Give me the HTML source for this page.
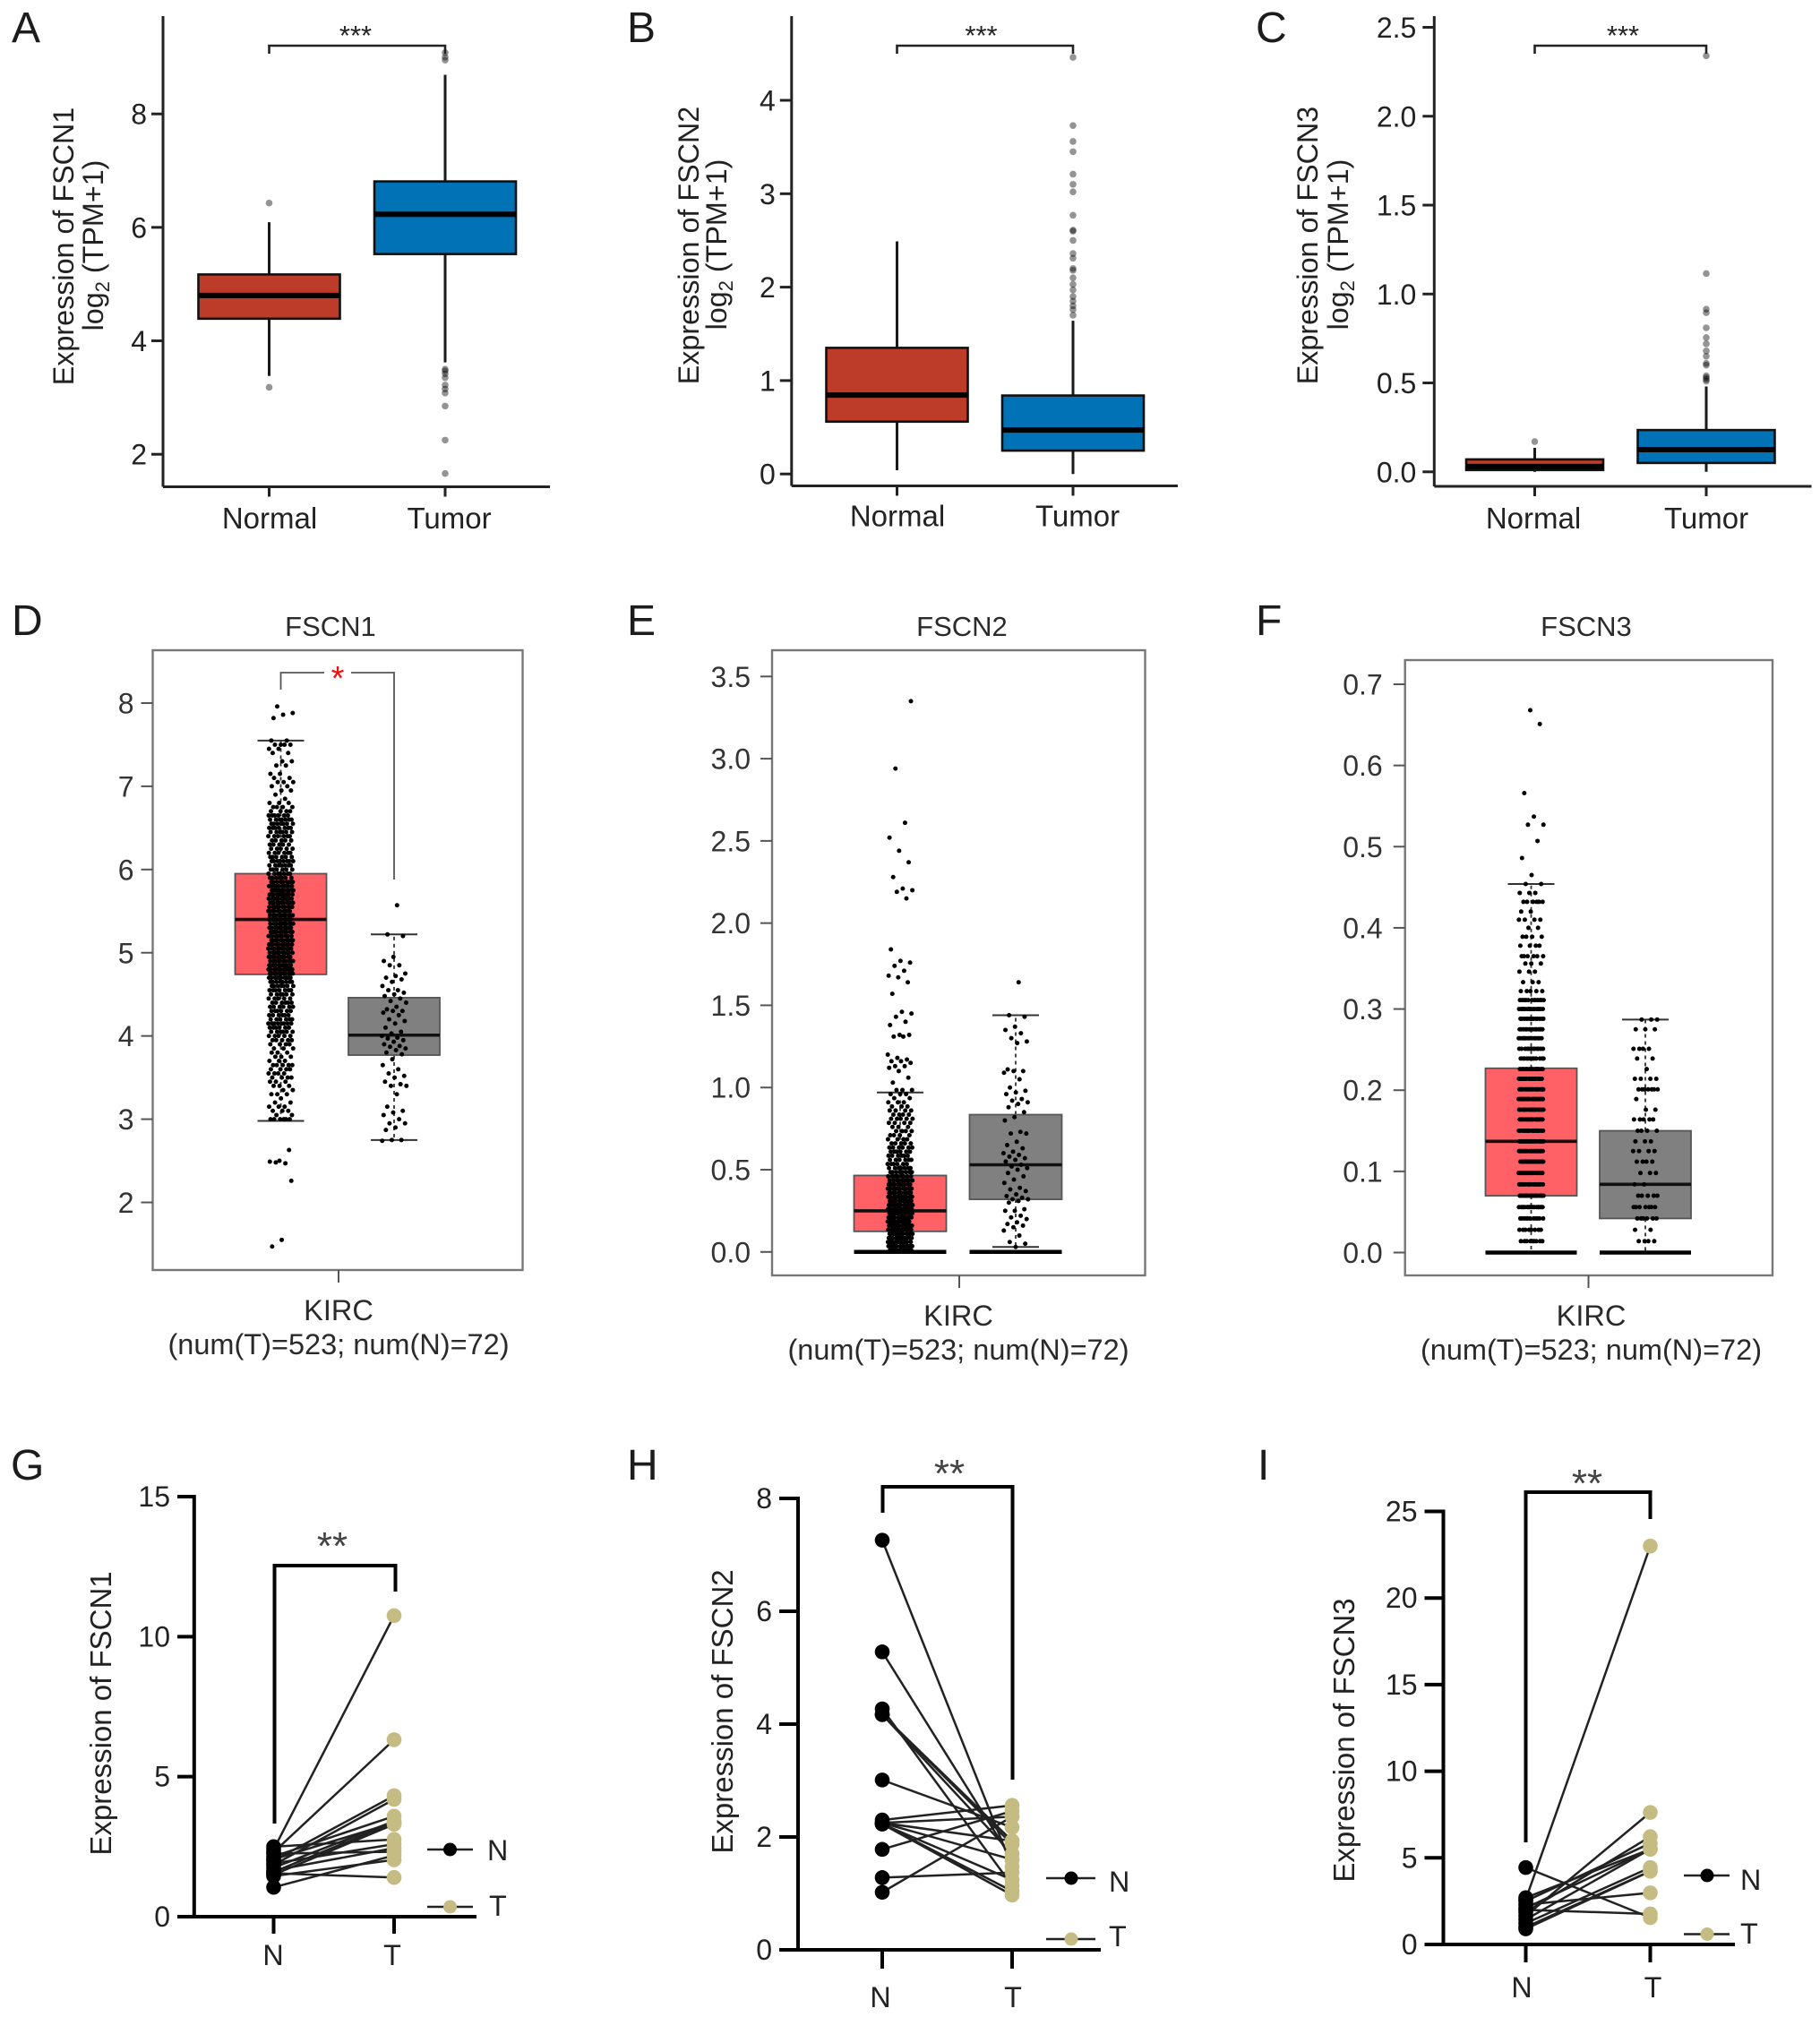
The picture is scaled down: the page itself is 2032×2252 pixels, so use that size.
<!DOCTYPE html>
<html lang="en">
<head>
<meta charset="utf-8">
<title>FSCN expression panels</title>
<style>
html,body{margin:0;padding:0;background:#fff;}
svg{display:block;font-family:"Liberation Sans",Arial,sans-serif;}
text{fill:#222;}
.letter{font-size:48px;fill:#1c1c1c;}
.axt{font-size:32.3px;}
.axp{font-size:33px;}
.cat{font-size:33px;}
.gt{font-size:31px;fill:#2a2a2a;}
.gx{font-size:32.5px;fill:#2a2a2a;}
</style>
</head>
<body>
<svg id="figure" xmlns="http://www.w3.org/2000/svg" width="2032" height="2252" viewBox="0 0 2032 2252">
<rect x="0" y="0" width="2032" height="2252" fill="#fff"/>

<g id="pA"></g>
<g id="pB"></g>
<g id="pC"></g>
<g id="pD"></g>
<g id="pE"></g>
<g id="pF"></g>
<g id="pG"></g>
<g id="pH"></g>
<g id="pI"></g>

<text class="letter" x="13" y="47">A</text>
<text class="letter" x="700" y="47">B</text>
<text class="letter" x="1402" y="47">C</text>
<text class="letter" x="13" y="709">D</text>
<text class="letter" x="700" y="709">E</text>
<text class="letter" x="1402" y="709">F</text>
<text class="letter" x="12" y="1652">G</text>
<text class="letter" x="700" y="1652">H</text>
<text class="letter" x="1404" y="1652">I</text>

<!-- Row 1 text -->
<text class="axt" transform="translate(82,275) rotate(-90)" text-anchor="middle">Expression of FSCN1</text>
<text class="axt" transform="translate(115,274) rotate(-90)" text-anchor="middle">log<tspan font-size="22" dy="7">2</tspan><tspan dy="-7"> (TPM+1)</tspan></text>
<text class="cat" x="301" y="590" text-anchor="middle">Normal</text>
<text class="cat" x="501.5" y="590" text-anchor="middle">Tumor</text>
<text x="397" y="50" text-anchor="middle" font-size="31">***</text>

<text class="axt" transform="translate(780,274) rotate(-90)" text-anchor="middle">Expression of FSCN2</text>
<text class="axt" transform="translate(811,273) rotate(-90)" text-anchor="middle">log<tspan font-size="22" dy="7">2</tspan><tspan dy="-7"> (TPM+1)</tspan></text>
<text class="cat" x="1002" y="587.5" text-anchor="middle">Normal</text>
<text class="cat" x="1203" y="587.5" text-anchor="middle">Tumor</text>
<text x="1095.5" y="50" text-anchor="middle" font-size="31">***</text>

<text class="axt" transform="translate(1471,274) rotate(-90)" text-anchor="middle">Expression of FSCN3</text>
<text class="axt" transform="translate(1505,273) rotate(-90)" text-anchor="middle">log<tspan font-size="22" dy="7">2</tspan><tspan dy="-7"> (TPM+1)</tspan></text>
<text class="cat" x="1712" y="590" text-anchor="middle">Normal</text>
<text class="cat" x="1905" y="590" text-anchor="middle">Tumor</text>
<text x="1812" y="50" text-anchor="middle" font-size="31">***</text>

<!-- Row 2 text -->
<text class="gt" x="369" y="710" text-anchor="middle">FSCN1</text>
<text class="gx" x="378" y="1474" text-anchor="middle">KIRC</text>
<text class="gx" x="378" y="1512" text-anchor="middle">(num(T)=523; num(N)=72)</text>
<text x="377" y="770" text-anchor="middle" font-size="38" style="fill:#f01010">*</text>

<text class="gt" x="1074" y="710" text-anchor="middle">FSCN2</text>
<text class="gx" x="1070" y="1480" text-anchor="middle">KIRC</text>
<text class="gx" x="1070" y="1518" text-anchor="middle">(num(T)=523; num(N)=72)</text>

<text class="gt" x="1771" y="710" text-anchor="middle">FSCN3</text>
<text class="gx" x="1776.5" y="1480" text-anchor="middle">KIRC</text>
<text class="gx" x="1776.5" y="1518" text-anchor="middle">(num(T)=523; num(N)=72)</text>

<!-- Row 3 text -->
<text class="axp" transform="translate(124,1913) rotate(-90)" text-anchor="middle">Expression of FSCN1</text>
<text class="axt" x="305" y="2194" text-anchor="middle">N</text>
<text class="axt" x="438" y="2194" text-anchor="middle">T</text>
<text x="371" y="1741" text-anchor="middle" font-size="44" style="fill:#444">**</text>
<text class="axt" x="544" y="2077">N</text>
<text class="axt" x="546" y="2139">T</text>

<text class="axp" transform="translate(818,1911) rotate(-90)" text-anchor="middle">Expression of FSCN2</text>
<text class="axt" x="983" y="2241" text-anchor="middle">N</text>
<text class="axt" x="1131" y="2241" text-anchor="middle">T</text>
<text x="1060" y="1660" text-anchor="middle" font-size="44" style="fill:#444">**</text>
<text class="axt" x="1238" y="2112">N</text>
<text class="axt" x="1238" y="2173">T</text>

<text class="axp" transform="translate(1512,1943) rotate(-90)" text-anchor="middle">Expression of FSCN3</text>
<text class="axt" x="1699" y="2230" text-anchor="middle">N</text>
<text class="axt" x="1845.5" y="2230" text-anchor="middle">T</text>
<text x="1772" y="1671" text-anchor="middle" font-size="44" style="fill:#444">**</text>
<text class="axt" x="1943" y="2110">N</text>
<text class="axt" x="1943" y="2170">T</text>
</svg>

<script>
/* ---------- Panel A data: box = [low whisker, q1, median, q3, high whisker] ---------- */
const aTicks=[2,4,6,8];
const aTickLabels=['2','4','6','8'];
const aNormalBox=[3.38,4.39,4.80,5.17,6.09];
const aTumorBox=[3.62,5.53,6.23,6.81,8.69];
const aNormalOutliers=[6.43,3.18];
const aTumorOutliers=[9.08,9.0,8.95,3.5,3.47,3.42,3.35,3.22,3.15,3.08,2.85,2.25,1.66];

/* ---------- Panel B data ---------- */
const bTicks=[0,1,2,3,4];
const bTickLabels=['0','1','2','3','4'];
const bNormalBox=[0.04,0.56,0.845,1.35,2.49];
const bTumorBox=[0,0.25,0.47,0.84,1.64];
const bNormalOutliers=[];
const bTumorOutliers=[4.46,3.73,3.56,3.45,3.21,3.1,3.02,2.77,2.61,2.6,2.5,2.36,2.31,2.2,2.18,2.1,2.03,1.97,1.9,1.85,1.8,1.76,1.7];

/* ---------- Panel C data ---------- */
const cTicks=[0,0.5,1,1.5,2,2.5];
const cTickLabels=['0.0','0.5','1.0','1.5','2.0','2.5'];
const cNormalBox=[0,0.01,0.03,0.07,0.135];
const cTumorBox=[0,0.05,0.125,0.235,0.48];
const cNormalOutliers=[0.17];
const cTumorOutliers=[2.34,1.115,0.915,0.895,0.81,0.755,0.72,0.68,0.65,0.61,0.6,0.54,0.53,0.52,0.51];

/* ---------- Panel D data ---------- */
const dTicks=[2,3,4,5,6,7,8];
const dTickLabels=['2','3','4','5','6','7','8'];
const dTumorBox=[2.98,4.74,5.4,5.95,7.55];
const dNormalBox=[2.75,3.77,4.01,4.46,5.22];
const dTumorLevels=[3.0,3.05,3.1,3.15,3.2,3.25,3.3,3.35,3.4,3.45,3.5,3.55,3.6,3.65,3.7,3.75,3.8,3.85,3.9,3.95,4.0,4.05,4.1,4.15,4.2,4.25,4.3,4.35,4.4,4.45,4.5,4.55,4.6,4.65,4.7,4.75,4.8,4.85,4.9,4.95,5.0,5.05,5.1,5.15,5.2,5.25,5.3,5.35,5.4,5.45,5.5,5.55,5.6,5.65,5.7,5.75,5.8,5.85,5.9,5.95,6.0,6.05,6.1,6.15,6.2,6.25,6.3,6.35,6.4,6.45,6.5,6.55,6.6,6.65,6.7,6.75,6.8,6.85,6.9,6.95,7.0,7.05,7.1,7.15,7.25,7.3,7.4,7.45,7.5,7.55];
const dTumorCounts=[6,2,3,3,2,1,3,2,3,3,4,4,4,5,3,3,3,3,4,5,5,6,6,8,6,6,6,6,6,5,6,7,7,8,10,11,11,11,10,10,10,10,10,10,10,10,10,10,11,10,10,10,10,11,11,11,11,9,7,7,6,7,8,6,6,5,5,5,6,6,7,7,7,6,4,4,3,1,1,2,2,3,2,2,2,2,2,2,4,2];
const dTumorExtra=[7.96,7.88,7.86,7.82,2.63,2.5,2.49,2.47,2.48,2.26,1.55,1.47];
const dNormalLevels=[];
const dNormalCounts=[];
const dNormalExtra=[5.57,5.22,5.2,4.95,4.9,4.85,4.85,4.75,4.72,4.7,4.68,4.65,4.6,4.55,4.55,4.52,4.5,4.48,4.45,4.42,4.4,4.35,4.32,4.3,4.3,4.28,4.25,4.2,4.18,4.15,4.1,4.05,4.03,4.0,3.98,3.97,3.95,3.93,3.9,3.88,3.87,3.85,3.83,3.8,3.78,3.72,3.65,3.6,3.55,3.52,3.5,3.45,3.42,3.4,3.4,3.3,3.15,3.1,3.08,3.05,3.0,2.95,2.95,2.9,2.87,2.75,2.75,2.74];

/* ---------- Panel E data ---------- */
const eTicks=[0,0.5,1,1.5,2,2.5,3,3.5];
const eTickLabels=['0.0','0.5','1.0','1.5','2.0','2.5','3.0','3.5'];
const eTumorBox=[0,0.125,0.25,0.465,0.97];
const eNormalBox=[0.03,0.32,0.53,0.835,1.44];
const eTumorLevels=[0.01,0.035,0.06,0.085,0.11,0.135,0.16,0.185,0.21,0.235,0.26,0.285,0.31,0.335,0.36,0.385,0.41,0.435,0.46,0.485,0.51,0.535,0.56,0.585,0.61,0.635,0.66,0.685,0.71,0.735,0.76,0.785,0.81,0.835,0.86,0.885,0.91,0.935,0.96,0.985];
const eTumorCounts=[12,12,12,12,12,12,12,12,12,12,12,12,11,11,10,10,10,9,9,8,7,6,6,6,6,6,5,4,4,4,3,4,5,4,4,3,3,2,3,3];
const eTumorExtra=[1.03,1.06,1.1,1.12,1.13,1.13,1.15,1.16,1.16,1.17,1.18,1.2,1.31,1.31,1.32,1.32,1.38,1.4,1.43,1.45,1.46,1.57,1.64,1.67,1.68,1.71,1.74,1.76,1.77,1.84,2.15,2.19,2.2,2.21,2.28,2.37,2.44,2.52,2.61,2.94,3.35];
const eNormalLevels=[];
const eNormalCounts=[];
const eNormalExtra=[1.64,1.44,1.43,1.37,1.35,1.33,1.3,1.28,1.27,1.11,1.1,1.1,1.09,1.05,1.0,0.98,0.97,0.96,0.93,0.92,0.91,0.9,0.88,0.85,0.82,0.8,0.73,0.72,0.72,0.67,0.65,0.63,0.61,0.6,0.59,0.58,0.57,0.56,0.55,0.53,0.52,0.51,0.5,0.48,0.46,0.44,0.42,0.39,0.38,0.37,0.35,0.34,0.33,0.32,0.32,0.31,0.3,0.26,0.25,0.25,0.22,0.21,0.2,0.18,0.17,0.16,0.15,0.13,0.1,0.06,0.05,0.03];

/* ---------- Panel F data ---------- */
const fTicks=[0,0.1,0.2,0.3,0.4,0.5,0.6,0.7];
const fTickLabels=['0.0','0.1','0.2','0.3','0.4','0.5','0.6','0.7'];
const fTumorBox=[0,0.07,0.137,0.227,0.454];
const fNormalBox=[0,0.042,0.084,0.15,0.287];
const fTumorLevels=[0.014,0.028,0.042,0.056,0.07,0.084,0.098,0.112,0.125,0.137,0.15,0.164,0.176,0.189,0.201,0.214,0.226,0.239,0.251,0.264,0.275,0.288,0.3,0.311,0.322,0.333,0.346,0.356,0.365,0.378,0.389,0.4,0.41,0.42,0.432,0.443,0.454];
const fTumorCounts=[9,8,11,18,18,18,20,20,20,20,18,18,18,20,18,18,14,12,12,14,14,14,16,12,5,3,3,3,6,4,4,2,4,2,6,3,2];
const fTumorExtra=[0.465,0.486,0.507,0.527,0.527,0.537,0.566,0.651,0.668];
const fNormalLevels=[0.014,0.028,0.042,0.056,0.07,0.084,0.098,0.112,0.125,0.137,0.15,0.164,0.176,0.189,0.201,0.214,0.226,0.239,0.251,0.275,0.287];
const fNormalCounts=[4,2,6,7,5,2,3,4,4,3,4,5,2,1,7,4,1,2,4,3,3];
const fNormalExtra=[];

/* ---------- Paired panels ---------- */
const gTicks=[0,5,10,15];
const gTickLabels=['0','5','10','15'];
const gNormal=[2.4,2.3,2.0,1.85,2.15,1.75,1.6,2.05,1.5,2.5,1.9,1.65,2.25,1.05,1.45,1.55];
const gTumor=[10.75,6.32,4.32,4.19,3.59,3.41,3.36,3.36,3.3,2.76,2.59,2.45,2.32,2.19,2.03,1.4];

const hTicks=[0,2,4,6,8];
const hTickLabels=['0','2','4','6','8'];
const hNormal=[7.26,5.28,4.27,4.17,4.17,4.17,3.01,2.3,2.25,2.25,2.23,2.23,1.78,1.28,1.02,2.23,2.25];
const hTumor=[1.47,1.6,1.14,1.93,1.87,1.7,2.17,2.56,1.93,2.36,1.24,1.04,2.46,1.37,2.36,0.97,1.6];

const iTicks=[0,5,10,15,20,25];
const iTickLabels=['0','5','10','15','20','25'];
const iNormal=[2.6,4.44,2.3,2.0,2.5,2.1,1.87,1.65,1.44,1.22,1.0,0.9,2.7];
const iTumor=[23.0,1.55,2.98,1.76,5.84,5.5,6.22,7.62,5.5,4.44,4.23,4.23,5.5];

/* ---------- Helpers ---------- */
const SVGNS='http://www.w3.org/2000/svg';
function linear(v1,p1,v2,p2){return function(v){return p1+(v-v1)*(p2-p1)/(v2-v1);};}
function mark(parent,tag,attrs,name,txt){
  const el=document.createElementNS(SVGNS,tag);
  for(const k in attrs){el.setAttribute(k,attrs[k]);}
  
  
  if(txt!==undefined){el.textContent=txt;}
  parent.appendChild(el);
  return el;
}
function seg(parent,x1,y1,x2,y2,color,w,name,dash){
  const a={x1:x1,y1:y1,x2:x2,y2:y2,stroke:color,'stroke-width':w};
  if(dash){a['stroke-dasharray']=dash;}
  return mark(parent,'line',a,name);
}
function jitter(i){return (((i+1)*0.6180339887)%1)*2-1;}

/* ---------- Panels A-C ---------- */
const NORMAL_RED='#BC3C29', TUMOR_BLUE='#0072B5';
function drawClassicBox(g,sc,cx,half,data,fill,outliers,tag){
  seg(g,cx,sc(data[0]),cx,sc(data[4]),'#1a1a1a',3,'whisker-'+tag);
  mark(g,'rect',{x:cx-half,y:sc(data[3]),width:half*2,height:sc(data[1])-sc(data[3]),fill:fill,stroke:'#111','stroke-width':2.6},'box-'+tag);
  seg(g,cx-half,sc(data[2]),cx+half,sc(data[2]),'#000',6,'median-'+tag);
  outliers.forEach(function(v){
    mark(g,'circle',{cx:cx,cy:sc(v),r:3.8,fill:'#000','fill-opacity':0.42},'outlier-'+tag);
  });
}
function drawClassicPanel(id,L,ticks,labels,nBox,tBox,nOut,tOut){
  const g=document.getElementById(id), sc=L.sc;
  seg(g,L.ax,L.top,L.ax,L.bottom,'#222',3,'y-axis-line');
  seg(g,L.ax,L.bottom,L.right,L.bottom,'#222',3,'x-axis-line');
  ticks.forEach(function(v,i){
    seg(g,L.ax-13,sc(v),L.ax,sc(v),'#222',3,'y-tick');
    mark(g,'text',{x:L.ax-L.gap,y:sc(v)+11.5,'text-anchor':'end','font-size':32},'y-tick-label',labels[i]);
  });
  L.cx.forEach(function(x){seg(g,x,L.bottom,x,L.bottom+11,'#222',3,'x-tick');});
  drawClassicBox(g,sc,L.cx[0],L.half,nBox,NORMAL_RED,nOut,'normal');
  drawClassicBox(g,sc,L.cx[1],L.half,tBox,TUMOR_BLUE,tOut,'tumor');
  mark(g,'path',{d:'M'+L.cx[0]+' 60V51H'+L.cx[1]+'V60',fill:'none',stroke:'#222','stroke-width':2.6},'significance-bracket');
}
drawClassicPanel('pA',{ax:182,top:18,bottom:543.5,right:614,gap:18,cx:[300.5,497],half:79,sc:linear(2,507.2,8,127.2)},aTicks,aTickLabels,aNormalBox,aTumorBox,aNormalOutliers,aTumorOutliers);
drawClassicPanel('pB',{ax:883.8,top:18,bottom:542.5,right:1315,gap:18,cx:[1001.5,1198],half:79,sc:linear(0,529.2,4,112)},bTicks,bTickLabels,bNormalBox,bTumorBox,bNormalOutliers,bTumorOutliers);
drawClassicPanel('pC',{ax:1601.3,top:18,bottom:543,right:2022.5,gap:20,cx:[1713.5,1905],half:76.5,sc:linear(0,526.8,2.5,30.5)},cTicks,cTickLabels,cNormalBox,cTumorBox,cNormalOutliers,cTumorOutliers);

/* ---------- Panels D-F ---------- */
function expand(levels,counts,extra){
  const out=[];
  levels.forEach(function(v,i){for(let k=0;k<counts[i];k++){out.push(v);}});
  return out.concat(extra);
}
function drawGepiaBox(g,sc,cx,half,data,fill,points,zeroBar,tag){
  seg(g,cx,sc(data[3]),cx,sc(data[4]),'#333',1.8,'upper-whisker-'+tag,'4 4');
  seg(g,cx,sc(data[1]),cx,sc(data[0]),'#333',1.8,'lower-whisker-'+tag,'4 4');
  seg(g,cx-26,sc(data[4]),cx+26,sc(data[4]),'#333',2,'upper-cap-'+tag);
  seg(g,cx-26,sc(data[0]),cx+26,sc(data[0]),'#333',2,'lower-cap-'+tag);
  mark(g,'rect',{x:cx-half,y:sc(data[3]),width:half*2,height:sc(data[1])-sc(data[3]),fill:fill,stroke:'#555','stroke-width':1.8},'box-'+tag);
  seg(g,cx-half,sc(data[2]),cx+half,sc(data[2]),'#111',3.6,'median-'+tag);
  if(zeroBar){seg(g,cx-half,sc(0),cx+half,sc(0),'#000',4.5,'zero-bar-'+tag);}
  points.forEach(function(v,i){
    mark(g,'circle',{cx:cx+14*jitter(i),cy:sc(v),r:2.5,fill:'#000'},'sample-point-'+tag);
  });
}
function drawGepiaPanel(id,L,ticks,labels,tBox,nBox,tPts,nPts){
  const g=document.getElementById(id), sc=L.sc;
  mark(g,'rect',{x:L.l,y:L.t,width:L.r-L.l,height:L.b-L.t,fill:'#fff',stroke:'#777','stroke-width':2.4},'plot-frame');
  ticks.forEach(function(v,i){
    seg(g,L.l-13,sc(v),L.l,sc(v),'#555',2,'y-tick');
    mark(g,'text',{x:L.l-L.gap,y:sc(v)+11.5,'text-anchor':'end','font-size':32,style:'fill:#333'},'y-tick-label',labels[i]);
  });
  seg(g,L.xt,L.b,L.xt,L.b+14,'#555',2,'x-tick');
  drawGepiaBox(g,sc,L.cx[0],L.half,tBox,'#FF6166',tPts,L.zero,'tumor');
  drawGepiaBox(g,sc,L.cx[1],L.half,nBox,'#808080',nPts,L.zero,'normal');
}
drawGepiaPanel('pD',{l:170.5,r:583.5,t:726,b:1418,xt:378,gap:21,cx:[313.5,440],half:51,zero:false,sc:linear(2,1342.5,8,785)},dTicks,dTickLabels,dTumorBox,dNormalBox,expand(dTumorLevels,dTumorCounts,dTumorExtra),expand(dNormalLevels,dNormalCounts,dNormalExtra));
drawGepiaPanel('pE',{l:862,r:1278.5,t:726,b:1424,xt:1071,gap:24,cx:[1005,1134],half:51.5,zero:true,sc:linear(0,1397.8,3.5,755.3)},eTicks,eTickLabels,eTumorBox,eNormalBox,expand(eTumorLevels,eTumorCounts,eTumorExtra),expand(eNormalLevels,eNormalCounts,eNormalExtra));
drawGepiaPanel('pF',{l:1568.7,r:1979,t:737,b:1424,xt:1773.5,gap:25,cx:[1709.5,1837],half:51,zero:true,sc:linear(0,1398.5,0.7,764)},fTicks,fTickLabels,fTumorBox,fNormalBox,expand(fTumorLevels,fTumorCounts,fTumorExtra),expand(fNormalLevels,fNormalCounts,fNormalExtra));

/* bracket in panel D */
(function(){
  const g=document.getElementById('pD');
  mark(g,'path',{d:'M313.5 770V751H362M392 751H440V982',fill:'none',stroke:'#555','stroke-width':1.8},'significance-bracket');
})();

/* ---------- Panels G-I ---------- */
const TAN='#C5BC83';
function drawPairedPanel(id,L,ticks,labels,nVals,tVals){
  const g=document.getElementById(id), sc=L.sc;
  seg(g,L.ax,L.top-2,L.ax,L.bottom+2,'#000',4,'y-axis-line');
  seg(g,L.left,L.bottom,L.right,L.bottom,'#000',4,'x-axis-line');
  ticks.forEach(function(v,i){
    seg(g,L.left,sc(v),L.ax,sc(v),'#000',4,'y-tick');
    mark(g,'text',{x:L.left-8,y:sc(v)+11,'text-anchor':'end','font-size':32},'y-tick-label',labels[i]);
  });
  seg(g,L.xn,L.bottom,L.xn,L.bottom+L.tick,'#000',4,'x-tick-n');
  seg(g,L.xt,L.bottom,L.xt,L.bottom+L.tick,'#000',4,'x-tick-t');
  nVals.forEach(function(v,i){
    seg(g,L.xn,sc(v),L.xt,sc(tVals[i]),'#222',2.5,'pair-line');
  });
  nVals.forEach(function(v){
    mark(g,'circle',{cx:L.xn,cy:sc(v),r:8.3,fill:'#000'},'normal-point');
  });
  tVals.forEach(function(v){
    mark(g,'circle',{cx:L.xt,cy:sc(v),r:8.3,fill:TAN},'tumor-point');
  });
  const b=L.br;
  mark(g,'path',{d:'M'+b[0]+' '+b[3]+'V'+b[2]+'H'+b[1]+'V'+b[4],fill:'none',stroke:'#000','stroke-width':4},'significance-bracket');
  const lg=L.lg;
  seg(g,lg[0],lg[3],lg[1],lg[3],'#222',2.4,'legend-line-n');
  mark(g,'circle',{cx:lg[2],cy:lg[3],r:7.5,fill:'#000'},'legend-marker-n');
  seg(g,lg[0],lg[4],lg[1],lg[4],'#222',2.4,'legend-line-t');
  mark(g,'circle',{cx:lg[2],cy:lg[4],r:7.5,fill:TAN},'legend-marker-t');
}
drawPairedPanel('pG',{ax:216.8,top:1671,bottom:2140,left:198,right:532,xn:305.5,xt:440,tick:19,sc:linear(0,2140,15,1671),br:[306.5,441.5,1748,2036,1777],lg:[477,528,502.5,2065,2129]},gTicks,gTickLabels,gNormal,gTumor);
drawPairedPanel('pH',{ax:891,top:1673,bottom:2177,left:870,right:1229,xn:985,xt:1130,tick:21,sc:linear(0,2177,8,1673),br:[985.5,1130.5,1660,1689,1987],lg:[1168,1223,1196,2097,2165]},hTicks,hTickLabels,hNormal,hTumor);
drawPairedPanel('pI',{ax:1611.5,top:1687.5,bottom:2171,left:1590.5,right:1937,xn:1703.5,xt:1842.5,tick:20,sc:linear(0,2171,25,1687.5),br:[1703.5,1842.5,1666,2057,1696],lg:[1880,1931,1906,2094,2159.5]},iTicks,iTickLabels,iNormal,iTumor);
</script>
</body>
</html>
